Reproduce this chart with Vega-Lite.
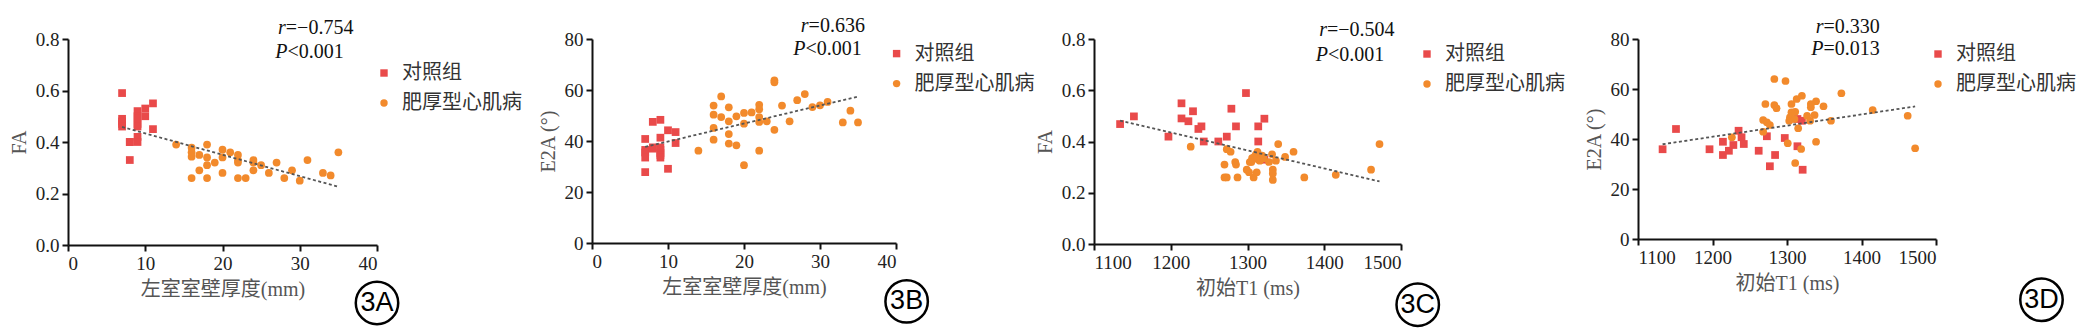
{
  "$schema": "https://vega.github.io/schema/vega-lite/v6.json",
  "background": "white",
  "padding": {"left": 9, "top": 16, "right": 0, "bottom": 0},
  "config": {
    "view": {"stroke": null},
    "font": "Liberation Serif",
    "concat": {"spacing": 0},
    "axis": {
      "grid": false, "domainColor": "#111", "domainWidth": 2, "tickColor": "#111", "tickWidth": 2, "tickSize": 6,
      "labelFont": "Liberation Serif", "labelFontSize": 19, "labelColor": "#222", "labelPadding": 3,
      "titleFont": "Liberation Serif, Noto Sans CJK SC", "titleFontSize": 20, "titleFontWeight": "normal", "titleColor": "#555", "titlePadding": 6
    },
    "legend": {
      "orient": "none", "title": null, "labelFont": "Noto Sans CJK SC", "labelFontSize": 20, "labelColor": "#333",
      "symbolSize": 55, "labelOffset": 8, "rowPadding": 10, "padding": 0, "symbolStrokeWidth": 0
    }
  },
  "datasets": {
    "a": [
      {"x": 7, "y": 0.59, "group": "对照组"}, {"x": 7, "y": 0.49, "group": "对照组"}, {"x": 7, "y": 0.48, "group": "对照组"}, {"x": 7, "y": 0.47, "group": "对照组"}, {"x": 7, "y": 0.46, "group": "对照组"},
      {"x": 8, "y": 0.40, "group": "对照组"}, {"x": 8, "y": 0.40, "group": "对照组"}, {"x": 8, "y": 0.33, "group": "对照组"},
      {"x": 9, "y": 0.52, "group": "对照组"}, {"x": 9, "y": 0.50, "group": "对照组"}, {"x": 9, "y": 0.49, "group": "对照组"}, {"x": 9, "y": 0.47, "group": "对照组"}, {"x": 9, "y": 0.46, "group": "对照组"}, {"x": 9, "y": 0.42, "group": "对照组"}, {"x": 9, "y": 0.40, "group": "对照组"},
      {"x": 10, "y": 0.53, "group": "对照组"}, {"x": 10, "y": 0.50, "group": "对照组"}, {"x": 11, "y": 0.55, "group": "对照组"}, {"x": 11, "y": 0.45, "group": "对照组"},
      {"x": 14, "y": 0.39, "group": "肥厚型心肌病"}, {"x": 16, "y": 0.378, "group": "肥厚型心肌病"}, {"x": 16, "y": 0.36, "group": "肥厚型心肌病"}, {"x": 16, "y": 0.343, "group": "肥厚型心肌病"}, {"x": 16, "y": 0.26, "group": "肥厚型心肌病"},
      {"x": 17, "y": 0.35, "group": "肥厚型心肌病"}, {"x": 17, "y": 0.29, "group": "肥厚型心肌病"}, {"x": 18, "y": 0.39, "group": "肥厚型心肌病"}, {"x": 18, "y": 0.34, "group": "肥厚型心肌病"}, {"x": 18, "y": 0.31, "group": "肥厚型心肌病"}, {"x": 18, "y": 0.26, "group": "肥厚型心肌病"},
      {"x": 19, "y": 0.32, "group": "肥厚型心肌病"}, {"x": 20, "y": 0.37, "group": "肥厚型心肌病"}, {"x": 20, "y": 0.34, "group": "肥厚型心肌病"}, {"x": 20, "y": 0.28, "group": "肥厚型心肌病"}, {"x": 21, "y": 0.36, "group": "肥厚型心肌病"},
      {"x": 22, "y": 0.35, "group": "肥厚型心肌病"}, {"x": 22, "y": 0.33, "group": "肥厚型心肌病"}, {"x": 22, "y": 0.32, "group": "肥厚型心肌病"}, {"x": 22, "y": 0.26, "group": "肥厚型心肌病"}, {"x": 23, "y": 0.26, "group": "肥厚型心肌病"},
      {"x": 24, "y": 0.33, "group": "肥厚型心肌病"}, {"x": 24, "y": 0.32, "group": "肥厚型心肌病"}, {"x": 24, "y": 0.29, "group": "肥厚型心肌病"}, {"x": 25, "y": 0.31, "group": "肥厚型心肌病"}, {"x": 26, "y": 0.28, "group": "肥厚型心肌病"},
      {"x": 27, "y": 0.32, "group": "肥厚型心肌病"}, {"x": 28, "y": 0.26, "group": "肥厚型心肌病"}, {"x": 29, "y": 0.29, "group": "肥厚型心肌病"}, {"x": 30, "y": 0.25, "group": "肥厚型心肌病"}, {"x": 31, "y": 0.33, "group": "肥厚型心肌病"},
      {"x": 33, "y": 0.28, "group": "肥厚型心肌病"}, {"x": 34, "y": 0.27, "group": "肥厚型心肌病"}, {"x": 35, "y": 0.36, "group": "肥厚型心肌病"}
    ],
    "b": [
      {"x": 7, "y": 40.8, "group": "对照组"}, {"x": 7, "y": 36.5, "group": "对照组"}, {"x": 7, "y": 35.5, "group": "对照组"}, {"x": 7, "y": 33.5, "group": "对照组"}, {"x": 7, "y": 27.8, "group": "对照组"},
      {"x": 8, "y": 47.5, "group": "对照组"}, {"x": 8, "y": 37.5, "group": "对照组"}, {"x": 8, "y": 37.0, "group": "对照组"},
      {"x": 9, "y": 48.3, "group": "对照组"}, {"x": 9, "y": 41.3, "group": "对照组"}, {"x": 9, "y": 37.5, "group": "对照组"}, {"x": 9, "y": 36.5, "group": "对照组"}, {"x": 9, "y": 35.3, "group": "对照组"}, {"x": 9, "y": 34.5, "group": "对照组"}, {"x": 9, "y": 33.5, "group": "对照组"},
      {"x": 10, "y": 44.2, "group": "对照组"}, {"x": 10, "y": 29.1, "group": "对照组"}, {"x": 11, "y": 43.5, "group": "对照组"}, {"x": 11, "y": 39.2, "group": "对照组"},
      {"x": 14, "y": 36.2, "group": "肥厚型心肌病"}, {"x": 16, "y": 53.9, "group": "肥厚型心肌病"}, {"x": 16, "y": 50.3, "group": "肥厚型心肌病"}, {"x": 16, "y": 45.1, "group": "肥厚型心肌病"}, {"x": 16, "y": 40.5, "group": "肥厚型心肌病"},
      {"x": 17, "y": 57.5, "group": "肥厚型心肌病"}, {"x": 17, "y": 49.4, "group": "肥厚型心肌病"}, {"x": 18, "y": 53.2, "group": "肥厚型心肌病"}, {"x": 18, "y": 47.7, "group": "肥厚型心肌病"}, {"x": 18, "y": 42.7, "group": "肥厚型心肌病"}, {"x": 18, "y": 39.0, "group": "肥厚型心肌病"},
      {"x": 19, "y": 49.7, "group": "肥厚型心肌病"}, {"x": 19, "y": 38.3, "group": "肥厚型心肌病"}, {"x": 20, "y": 51.0, "group": "肥厚型心肌病"}, {"x": 20, "y": 46.8, "group": "肥厚型心肌病"}, {"x": 20, "y": 30.5, "group": "肥厚型心肌病"},
      {"x": 21, "y": 51.2, "group": "肥厚型心肌病"}, {"x": 22, "y": 54.2, "group": "肥厚型心肌病"}, {"x": 22, "y": 52.5, "group": "肥厚型心肌病"}, {"x": 22, "y": 49.4, "group": "肥厚型心肌病"}, {"x": 22, "y": 47.5, "group": "肥厚型心肌病"}, {"x": 22, "y": 36.2, "group": "肥厚型心肌病"},
      {"x": 23, "y": 47.7, "group": "肥厚型心肌病"}, {"x": 24, "y": 63.8, "group": "肥厚型心肌病"}, {"x": 24, "y": 63.0, "group": "肥厚型心肌病"}, {"x": 24, "y": 44.4, "group": "肥厚型心肌病"}, {"x": 25, "y": 53.9, "group": "肥厚型心肌病"},
      {"x": 26, "y": 47.7, "group": "肥厚型心肌病"}, {"x": 27, "y": 56.0, "group": "肥厚型心肌病"}, {"x": 28, "y": 58.4, "group": "肥厚型心肌病"}, {"x": 29, "y": 53.3, "group": "肥厚型心肌病"}, {"x": 30, "y": 54.0, "group": "肥厚型心肌病"},
      {"x": 31, "y": 55.3, "group": "肥厚型心肌病"}, {"x": 33, "y": 47.3, "group": "肥厚型心肌病"}, {"x": 34, "y": 51.9, "group": "肥厚型心肌病"}, {"x": 35, "y": 47.3, "group": "肥厚型心肌病"}
    ],
    "c": [
      {"x": 1134, "y": 0.468, "group": "对照组"}, {"x": 1152, "y": 0.498, "group": "对照组"}, {"x": 1197, "y": 0.419, "group": "对照组"}, {"x": 1214, "y": 0.549, "group": "对照组"}, {"x": 1214, "y": 0.490, "group": "对照组"},
      {"x": 1223, "y": 0.479, "group": "对照组"}, {"x": 1229, "y": 0.518, "group": "对照组"}, {"x": 1236, "y": 0.449, "group": "对照组"}, {"x": 1240, "y": 0.459, "group": "对照组"}, {"x": 1243, "y": 0.40, "group": "对照组"},
      {"x": 1262, "y": 0.40, "group": "对照组"}, {"x": 1273, "y": 0.419, "group": "对照组"}, {"x": 1279, "y": 0.528, "group": "对照组"}, {"x": 1285, "y": 0.459, "group": "对照组"}, {"x": 1298, "y": 0.589, "group": "对照组"},
      {"x": 1314, "y": 0.459, "group": "对照组"}, {"x": 1314, "y": 0.40, "group": "对照组"}, {"x": 1322, "y": 0.489, "group": "对照组"}, {"x": 1322, "y": 0.329, "group": "对照组"},
      {"x": 1226, "y": 0.38, "group": "肥厚型心肌病"}, {"x": 1270, "y": 0.31, "group": "肥厚型心肌病"}, {"x": 1270, "y": 0.26, "group": "肥厚型心肌病"}, {"x": 1273, "y": 0.26, "group": "肥厚型心肌病"}, {"x": 1273, "y": 0.37, "group": "肥厚型心肌病"},
      {"x": 1278, "y": 0.36, "group": "肥厚型心肌病"}, {"x": 1284, "y": 0.32, "group": "肥厚型心肌病"}, {"x": 1285, "y": 0.31, "group": "肥厚型心肌病"}, {"x": 1287, "y": 0.26, "group": "肥厚型心肌病"}, {"x": 1299, "y": 0.29, "group": "肥厚型心肌病"},
      {"x": 1303, "y": 0.32, "group": "肥厚型心肌病"}, {"x": 1306, "y": 0.335, "group": "肥厚型心肌病"}, {"x": 1308, "y": 0.26, "group": "肥厚型心肌病"}, {"x": 1311, "y": 0.35, "group": "肥厚型心肌病"}, {"x": 1312, "y": 0.28, "group": "肥厚型心肌病"},
      {"x": 1314, "y": 0.33, "group": "肥厚型心肌病"}, {"x": 1319, "y": 0.345, "group": "肥厚型心肌病"}, {"x": 1332, "y": 0.35, "group": "肥厚型心肌病"}, {"x": 1333, "y": 0.29, "group": "肥厚型心肌病"}, {"x": 1333, "y": 0.275, "group": "肥厚型心肌病"},
      {"x": 1333, "y": 0.25, "group": "肥厚型心肌病"}, {"x": 1337, "y": 0.325, "group": "肥厚型心肌病"}, {"x": 1340, "y": 0.39, "group": "肥厚型心肌病"}, {"x": 1349, "y": 0.34, "group": "肥厚型心肌病"}, {"x": 1360, "y": 0.36, "group": "肥厚型心肌病"},
      {"x": 1374, "y": 0.26, "group": "肥厚型心肌病"}, {"x": 1415, "y": 0.27, "group": "肥厚型心肌病"}, {"x": 1461, "y": 0.29, "group": "肥厚型心肌病"}, {"x": 1472, "y": 0.39, "group": "肥厚型心肌病"},
      {"x": 1309, "y": 0.34, "group": "肥厚型心肌病"}, {"x": 1316, "y": 0.325, "group": "肥厚型心肌病"}, {"x": 1321, "y": 0.335, "group": "肥厚型心肌病"}, {"x": 1305, "y": 0.32, "group": "肥厚型心肌病"}, {"x": 1328, "y": 0.32, "group": "肥厚型心肌病"},
      {"x": 1313, "y": 0.36, "group": "肥厚型心肌病"}, {"x": 1302, "y": 0.28, "group": "肥厚型心肌病"}
    ],
    "d": [
      {"x": 1133, "y": 35.9, "group": "对照组"}, {"x": 1151, "y": 44.0, "group": "对照组"}, {"x": 1196, "y": 35.9, "group": "对照组"}, {"x": 1214, "y": 38.9, "group": "对照组"}, {"x": 1214, "y": 33.6, "group": "对照组"},
      {"x": 1222, "y": 35.3, "group": "对照组"}, {"x": 1228, "y": 37.6, "group": "对照组"}, {"x": 1235, "y": 43.3, "group": "对照组"}, {"x": 1239, "y": 40.7, "group": "对照组"}, {"x": 1242, "y": 38.0, "group": "对照组"},
      {"x": 1262, "y": 35.3, "group": "对照组"}, {"x": 1273, "y": 41.1, "group": "对照组"}, {"x": 1277, "y": 29.1, "group": "对照组"}, {"x": 1284, "y": 33.6, "group": "对照组"}, {"x": 1297, "y": 40.4, "group": "对照组"},
      {"x": 1314, "y": 37.1, "group": "对照组"}, {"x": 1314, "y": 48.0, "group": "对照组"}, {"x": 1320, "y": 47.3, "group": "对照组"}, {"x": 1321, "y": 27.7, "group": "对照组"},
      {"x": 1226, "y": 40.7, "group": "肥厚型心肌病"}, {"x": 1283, "y": 64.0, "group": "肥厚型心肌病"}, {"x": 1298, "y": 63.2, "group": "肥厚型心肌病"}, {"x": 1271, "y": 54.0, "group": "肥厚型心肌病"}, {"x": 1283, "y": 53.6, "group": "肥厚型心肌病"},
      {"x": 1286, "y": 52.3, "group": "肥厚型心肌病"}, {"x": 1306, "y": 54.0, "group": "肥厚型心肌病"}, {"x": 1313, "y": 56.0, "group": "肥厚型心肌病"}, {"x": 1320, "y": 57.3, "group": "肥厚型心肌病"}, {"x": 1339, "y": 55.1, "group": "肥厚型心肌病"},
      {"x": 1349, "y": 53.1, "group": "肥厚型心肌病"}, {"x": 1373, "y": 58.3, "group": "肥厚型心肌病"}, {"x": 1332, "y": 54.0, "group": "肥厚型心肌病"}, {"x": 1332, "y": 52.7, "group": "肥厚型心肌病"}, {"x": 1304, "y": 48.7, "group": "肥厚型心肌病"},
      {"x": 1306, "y": 50.7, "group": "肥厚型心肌病"}, {"x": 1311, "y": 50.9, "group": "肥厚型心肌病"}, {"x": 1327, "y": 49.3, "group": "肥厚型心肌病"}, {"x": 1337, "y": 49.6, "group": "肥厚型心肌病"}, {"x": 1268, "y": 47.6, "group": "肥厚型心肌病"},
      {"x": 1273, "y": 46.7, "group": "肥厚型心肌病"}, {"x": 1277, "y": 45.6, "group": "肥厚型心肌病"}, {"x": 1268, "y": 42.9, "group": "肥厚型心肌病"}, {"x": 1303, "y": 47.3, "group": "肥厚型心肌病"}, {"x": 1315, "y": 44.3, "group": "肥厚型心肌病"},
      {"x": 1331, "y": 47.3, "group": "肥厚型心肌病"}, {"x": 1359, "y": 47.3, "group": "肥厚型心肌病"}, {"x": 1301, "y": 38.3, "group": "肥厚型心肌病"}, {"x": 1319, "y": 36.0, "group": "肥厚型心肌病"}, {"x": 1339, "y": 38.9, "group": "肥厚型心肌病"},
      {"x": 1311, "y": 30.4, "group": "肥厚型心肌病"}, {"x": 1310, "y": 48.0, "group": "肥厚型心肌病"}, {"x": 1415, "y": 51.6, "group": "肥厚型心肌病"}, {"x": 1462, "y": 49.3, "group": "肥厚型心肌病"}, {"x": 1472, "y": 36.3, "group": "肥厚型心肌病"}
    ]
  },
  "resolve": {"scale": {"color": "independent", "shape": "independent"}, "legend": {"color": "independent", "shape": "independent"}},
  "hconcat": [
    {
      "width": 309, "height": 206,
      "layer": [
        {
          "data": {"name": "a"},
          "mark": {"type": "point", "filled": true, "opacity": 1, "size": 60},
          "encoding": {
            "x": {"field": "x", "type": "quantitative", "scale": {"domain": [0, 40], "nice": false}, "axis": {"values": [0, 10, 20, 30, 40], "title": "左室室壁厚度(mm)"}},
            "y": {"field": "y", "type": "quantitative", "scale": {"domain": [0, 0.8], "nice": false}, "axis": {"values": [0, 0.2, 0.4, 0.6, 0.8], "format": ".1f", "title": "FA"}},
            "color": {"field": "group", "type": "nominal", "scale": {"domain": ["对照组", "肥厚型心肌病"], "range": ["#E94A4A", "#F28A2C"]}, "legend": {"legendX": 290, "legendY": 8, "padding": 16}},
            "shape": {"field": "group", "type": "nominal", "scale": {"domain": ["对照组", "肥厚型心肌病"], "range": ["square", "circle"]}, "legend": {"legendX": 290, "legendY": 8, "padding": 16}}
          }
        },
        {
          "data": {"name": "a"},
          "transform": [{"regression": "y", "on": "x"}],
          "mark": {"type": "line", "color": "#555", "strokeWidth": 1.8, "strokeDash": [3, 2.5]},
          "encoding": {"x": {"field": "x", "type": "quantitative"}, "y": {"field": "y", "type": "quantitative"}}
        },
        {
          "data": {"values": [{"s": "r", "v": "=−0.754"}]},
          "layer": [
            {"mark": {"type": "text", "align": "right", "baseline": "middle", "font": "Liberation Serif", "fontStyle": "italic", "fontSize": 20, "color": "#111"},
             "encoding": {"x": {"datum": 28.2}, "y": {"datum": 0.842}, "text": {"field": "s"}}},
            {"mark": {"type": "text", "align": "left", "baseline": "middle", "font": "Liberation Serif", "fontSize": 20, "color": "#111"},
             "encoding": {"x": {"datum": 28.2}, "y": {"datum": 0.842}, "text": {"field": "v"}}}
          ]
        },
        {
          "data": {"values": [{"s": "P", "v": "<0.001"}]},
          "layer": [
            {"mark": {"type": "text", "align": "right", "baseline": "middle", "font": "Liberation Serif", "fontStyle": "italic", "fontSize": 20, "color": "#111"},
             "encoding": {"x": {"datum": 28.4}, "y": {"datum": 0.748}, "text": {"field": "s"}}},
            {"mark": {"type": "text", "align": "left", "baseline": "middle", "font": "Liberation Serif", "fontSize": 20, "color": "#111"},
             "encoding": {"x": {"datum": 28.4}, "y": {"datum": 0.748}, "text": {"field": "v"}}}
          ]
        },
        {
          "data": {"values": [{"t": "3A"}]},
          "layer": [
            {"mark": {"type": "point", "shape": "circle", "filled": false, "stroke": "#000", "strokeWidth": 2.5, "size": 1800, "opacity": 1},
             "encoding": {"x": {"datum": 40}, "y": {"datum": -0.225}}},
            {"mark": {"type": "text", "align": "center", "baseline": "middle", "font": "Liberation Sans", "fontSize": 27, "color": "#000"},
             "encoding": {"x": {"datum": 40}, "y": {"datum": -0.225}, "text": {"field": "t"}}}
          ]
        }
      ]
    },
    {
      "width": 304, "height": 204,
      "layer": [
        {
          "data": {"name": "b"},
          "mark": {"type": "point", "filled": true, "opacity": 1, "size": 60},
          "encoding": {
            "x": {"field": "x", "type": "quantitative", "scale": {"domain": [0, 40], "nice": false}, "axis": {"values": [0, 10, 20, 30, 40], "title": "左室室壁厚度(mm)"}},
            "y": {"field": "y", "type": "quantitative", "scale": {"domain": [0, 80], "nice": false}, "axis": {"values": [0, 20, 40, 60, 80], "title": "E2A (°)"}},
            "color": {"field": "group", "type": "nominal", "scale": {"domain": ["对照组", "肥厚型心肌病"], "range": ["#E94A4A", "#F28A2C"]}, "legend": {"legendX": 294.6, "legendY": 4.6}},
            "shape": {"field": "group", "type": "nominal", "scale": {"domain": ["对照组", "肥厚型心肌病"], "range": ["square", "circle"]}, "legend": {"legendX": 294.6, "legendY": 4.6}}
          }
        },
        {
          "data": {"name": "b"},
          "transform": [{"regression": "y", "on": "x"}],
          "mark": {"type": "line", "color": "#555", "strokeWidth": 1.8, "strokeDash": [3, 2.5]},
          "encoding": {"x": {"field": "x", "type": "quantitative"}, "y": {"field": "y", "type": "quantitative"}}
        },
        {
          "data": {"values": [{"s": "r", "v": "=0.636"}]},
          "layer": [
            {"mark": {"type": "text", "align": "right", "baseline": "middle", "font": "Liberation Serif", "fontStyle": "italic", "fontSize": 20, "color": "#111"},
             "encoding": {"x": {"datum": 28.5}, "y": {"datum": 85}, "text": {"field": "s"}}},
            {"mark": {"type": "text", "align": "left", "baseline": "middle", "font": "Liberation Serif", "fontSize": 20, "color": "#111"},
             "encoding": {"x": {"datum": 28.5}, "y": {"datum": 85}, "text": {"field": "v"}}}
          ]
        },
        {
          "data": {"values": [{"s": "P", "v": "<0.001"}]},
          "layer": [
            {"mark": {"type": "text", "align": "right", "baseline": "middle", "font": "Liberation Serif", "fontStyle": "italic", "fontSize": 20, "color": "#111"},
             "encoding": {"x": {"datum": 28.1}, "y": {"datum": 76.2}, "text": {"field": "s"}}},
            {"mark": {"type": "text", "align": "left", "baseline": "middle", "font": "Liberation Serif", "fontSize": 20, "color": "#111"},
             "encoding": {"x": {"datum": 28.1}, "y": {"datum": 76.2}, "text": {"field": "v"}}}
          ]
        },
        {
          "data": {"values": [{"t": "3B"}]},
          "layer": [
            {"mark": {"type": "point", "shape": "circle", "filled": false, "stroke": "#000", "strokeWidth": 2.5, "size": 1800, "opacity": 1},
             "encoding": {"x": {"datum": 41.4}, "y": {"datum": -22.9}}},
            {"mark": {"type": "text", "align": "center", "baseline": "middle", "font": "Liberation Sans", "fontSize": 27, "color": "#000"},
             "encoding": {"x": {"datum": 41.4}, "y": {"datum": -22.9}, "text": {"field": "t"}}}
          ]
        }
      ]
    },
    {
      "width": 307, "height": 205,
      "layer": [
        {
          "data": {"name": "c"},
          "mark": {"type": "point", "filled": true, "opacity": 1, "size": 60},
          "encoding": {
            "x": {"field": "x", "type": "quantitative", "scale": {"domain": [1100, 1500], "nice": false, "zero": false}, "axis": {"values": [1100, 1200, 1300, 1400, 1500], "format": "d", "title": "初始T1 (ms)"}},
            "y": {"field": "y", "type": "quantitative", "scale": {"domain": [0, 0.8], "nice": false}, "axis": {"values": [0, 0.2, 0.4, 0.6, 0.8], "format": ".1f", "title": "FA"}},
            "color": {"field": "group", "type": "nominal", "scale": {"domain": ["对照组", "肥厚型心肌病"], "range": ["#E94A4A", "#F28A2C"]}, "legend": {"legendX": 304, "legendY": -14, "padding": 19}},
            "shape": {"field": "group", "type": "nominal", "scale": {"domain": ["对照组", "肥厚型心肌病"], "range": ["square", "circle"]}, "legend": {"legendX": 304, "legendY": -14, "padding": 19}}
          }
        },
        {
          "data": {"name": "c"},
          "transform": [{"regression": "y", "on": "x"}],
          "mark": {"type": "line", "color": "#555", "strokeWidth": 1.8, "strokeDash": [3, 2.5]},
          "encoding": {"x": {"field": "x", "type": "quantitative"}, "y": {"field": "y", "type": "quantitative"}}
        },
        {
          "data": {"values": [{"s": "r", "v": "=−0.504"}]},
          "layer": [
            {"mark": {"type": "text", "align": "right", "baseline": "middle", "font": "Liberation Serif", "fontStyle": "italic", "fontSize": 20, "color": "#111"},
             "encoding": {"x": {"datum": 1403.6}, "y": {"datum": 0.836}, "text": {"field": "s"}}},
            {"mark": {"type": "text", "align": "left", "baseline": "middle", "font": "Liberation Serif", "fontSize": 20, "color": "#111"},
             "encoding": {"x": {"datum": 1403.6}, "y": {"datum": 0.836}, "text": {"field": "v"}}}
          ]
        },
        {
          "data": {"values": [{"s": "P", "v": "<0.001"}]},
          "layer": [
            {"mark": {"type": "text", "align": "right", "baseline": "middle", "font": "Liberation Serif", "fontStyle": "italic", "fontSize": 20, "color": "#111"},
             "encoding": {"x": {"datum": 1405}, "y": {"datum": 0.739}, "text": {"field": "s"}}},
            {"mark": {"type": "text", "align": "left", "baseline": "middle", "font": "Liberation Serif", "fontSize": 20, "color": "#111"},
             "encoding": {"x": {"datum": 1405}, "y": {"datum": 0.739}, "text": {"field": "v"}}}
          ]
        },
        {
          "data": {"values": [{"t": "3C"}]},
          "layer": [
            {"mark": {"type": "point", "shape": "circle", "filled": false, "stroke": "#000", "strokeWidth": 2.5, "size": 1800, "opacity": 1},
             "encoding": {"x": {"datum": 1521.8}, "y": {"datum": -0.237}}},
            {"mark": {"type": "text", "align": "center", "baseline": "middle", "font": "Liberation Sans", "fontSize": 27, "color": "#000"},
             "encoding": {"x": {"datum": 1521.8}, "y": {"datum": -0.237}, "text": {"field": "t"}}}
          ]
        }
      ]
    },
    {
      "width": 298, "height": 200,
      "layer": [
        {
          "data": {"name": "d"},
          "mark": {"type": "point", "filled": true, "opacity": 1, "size": 60},
          "encoding": {
            "x": {"field": "x", "type": "quantitative", "scale": {"domain": [1100, 1500], "nice": false, "zero": false}, "axis": {"values": [1100, 1200, 1300, 1400, 1500], "format": "d", "title": "初始T1 (ms)"}},
            "y": {"field": "y", "type": "quantitative", "scale": {"domain": [0, 80], "nice": false}, "axis": {"values": [0, 20, 40, 60, 80], "title": "E2A (°)"}},
            "color": {"field": "group", "type": "nominal", "scale": {"domain": ["对照组", "肥厚型心肌病"], "range": ["#E94A4A", "#F28A2C"]}, "legend": {"legendX": 290, "legendY": 5}},
            "shape": {"field": "group", "type": "nominal", "scale": {"domain": ["对照组", "肥厚型心肌病"], "range": ["square", "circle"]}, "legend": {"legendX": 290, "legendY": 5}}
          }
        },
        {
          "data": {"name": "d"},
          "transform": [{"regression": "y", "on": "x"}],
          "mark": {"type": "line", "color": "#555", "strokeWidth": 1.8, "strokeDash": [3, 2.5]},
          "encoding": {"x": {"field": "x", "type": "quantitative"}, "y": {"field": "y", "type": "quantitative"}}
        },
        {
          "data": {"values": [{"s": "r", "v": "=0.330"}]},
          "layer": [
            {"mark": {"type": "text", "align": "right", "baseline": "middle", "font": "Liberation Serif", "fontStyle": "italic", "fontSize": 20, "color": "#111"},
             "encoding": {"x": {"datum": 1349}, "y": {"datum": 84.9}, "text": {"field": "s"}}},
            {"mark": {"type": "text", "align": "left", "baseline": "middle", "font": "Liberation Serif", "fontSize": 20, "color": "#111"},
             "encoding": {"x": {"datum": 1349}, "y": {"datum": 84.9}, "text": {"field": "v"}}}
          ]
        },
        {
          "data": {"values": [{"s": "P", "v": "=0.013"}]},
          "layer": [
            {"mark": {"type": "text", "align": "right", "baseline": "middle", "font": "Liberation Serif", "fontStyle": "italic", "fontSize": 20, "color": "#111"},
             "encoding": {"x": {"datum": 1349}, "y": {"datum": 75.9}, "text": {"field": "s"}}},
            {"mark": {"type": "text", "align": "left", "baseline": "middle", "font": "Liberation Serif", "fontSize": 20, "color": "#111"},
             "encoding": {"x": {"datum": 1349}, "y": {"datum": 75.9}, "text": {"field": "v"}}}
          ]
        },
        {
          "data": {"values": [{"t": "3D"}]},
          "layer": [
            {"mark": {"type": "point", "shape": "circle", "filled": false, "stroke": "#000", "strokeWidth": 2.5, "size": 1800, "opacity": 1},
             "encoding": {"x": {"datum": 1641.6}, "y": {"datum": -24.3}}},
            {"mark": {"type": "text", "align": "center", "baseline": "middle", "font": "Liberation Sans", "fontSize": 27, "color": "#000"},
             "encoding": {"x": {"datum": 1641.6}, "y": {"datum": -24.3}, "text": {"field": "t"}}}
          ]
        }
      ]
    }
  ]
}
